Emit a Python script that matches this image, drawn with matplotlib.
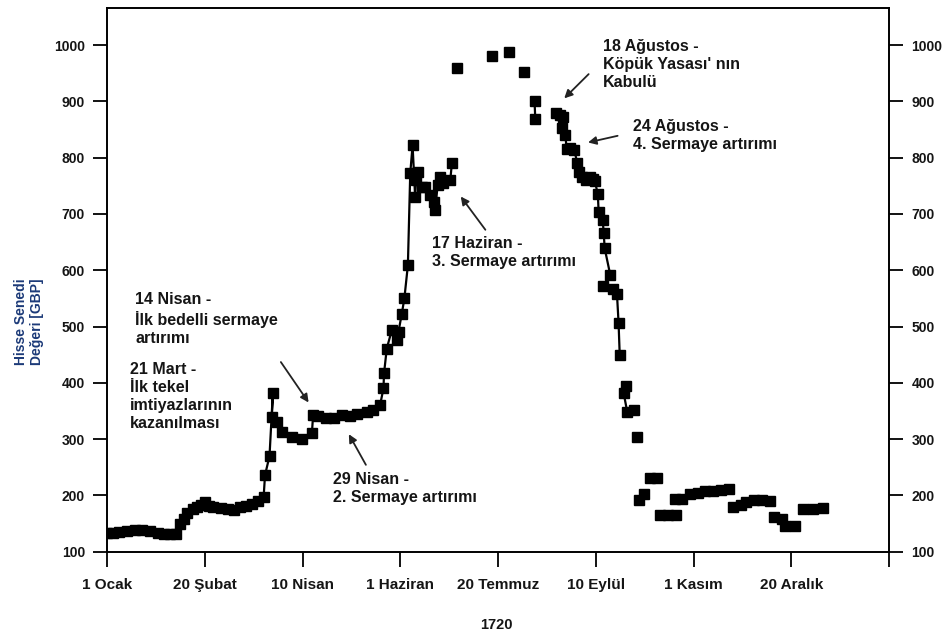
import numpy as np
import matplotlib.pyplot as plt
from matplotlib import font_manager

# day of year 1720 (0 = 1 Ocak) and share price in GBP
days_a = [0, 3, 6, 10, 14, 18, 22, 26, 29, 32, 35, 37, 39, 41, 44, 46, 48, 50, 52, 54,
          58, 62, 65, 68, 71, 74, 77, 80, 80.7, 83, 84.7, 84.2, 86.7, 89.3, 94.4, 99.5,
          104.7, 105.3, 108, 112, 116, 120, 124, 128, 132.8, 136, 139.6, 141.3, 141.6,
          143, 145.6, 148, 149, 150.7, 152, 153.8, 155, 156.2, 157.5, 158, 159.2, 161,
          162.7, 165.2, 167, 167.8, 169, 170.3, 172, 175.5, 176.3]
vals_a = [133, 134, 135, 137, 138, 139, 137, 134, 132, 131, 132, 150, 158, 168, 175, 180,
          183, 189, 182, 179, 177, 175, 174, 179, 182, 185, 190, 198, 236, 270, 382, 340,
          331, 313, 303, 301, 311, 343, 341, 338, 337, 343, 341, 345, 349, 352, 361, 390,
          417, 461, 494, 476, 491, 523, 550, 609, 772, 822, 731, 760, 775, 748, 748, 734,
          722, 707, 751, 766, 755, 760, 790]

days_b = [178.9, 196.8, 205.7, 213.4]
vals_b = [959, 980, 988, 953]

days_c = [218.6, 219]
vals_c = [901, 868]

days_d = [229.7, 231.5, 233.2, 232.7, 234.4, 235, 237, 239, 240.5, 241.2, 243, 245, 247,
          248.5, 249.5, 251, 251.4, 253.5, 254, 254.5, 257.4, 253.6, 259, 260.8, 261.6, 262.2]
vals_d = [879, 875, 873, 852, 840, 816, 818, 813, 790, 775, 766, 760, 765, 763, 758, 735,
          704, 689, 666, 639, 591, 572, 566, 557, 507, 449]

days_e = [265.6, 264.2, 266, 269.7]
vals_e = [394, 382, 349, 352]

days_f = [271, 272, 274.5, 277.5, 281.5, 283, 287, 291, 290.5, 294, 298, 302, 306, 310,
          314, 318, 320, 324, 327, 331, 335, 339, 341, 345, 347, 352, 356, 361, 366]
vals_f = [303, 191, 202, 231, 231, 166, 165, 166, 193, 194, 203, 204, 207, 208, 210, 211,
          179, 183, 189, 191, 191, 190, 161, 158, 146, 146, 175, 176, 177]

tick_days = [0, 50, 100, 150, 200, 250, 300, 350, 400]
tick_labels = ['1 Ocak', '20 Şubat', '10 Nisan', '1 Haziran', '20 Temmuz',
               '10 Eylül', '1 Kasım', '20 Aralık', '']

names = {f.name for f in font_manager.fontManager.ttflist}
narrow = 'Liberation Sans Narrow' if 'Liberation Sans Narrow' in names else 'Liberation Sans'
plt.rcParams['font.family'] = ['Liberation Sans', 'DejaVu Sans']
plt.rcParams['font.weight'] = 'bold'

txt = '#151515'

fig = plt.figure(figsize=(9.48, 6.4), dpi=100)
ax = fig.add_axes([0.1132, 0.138, 0.8246, 0.8495])

for d, v in [(days_a, vals_a), (days_c, vals_c), (days_d, vals_d), (days_e, vals_e)]:
    ax.plot(d, v, '-', color='black', linewidth=1.6, marker='s', markersize=6.5)
ax.plot(days_b, vals_b, 's', color='black', markersize=6.5)
ax.plot(days_f, vals_f, 's', color='black', markersize=6.5)

ax.set_xlim(0, 400)
ax.set_ylim(100, 1066)
ax.set_xticks(tick_days)
ax.set_xticklabels(tick_labels, family=[narrow, 'DejaVu Sans'], fontsize=11,
                   fontweight='bold', color=txt)
ax.set_yticks(np.arange(100, 1001, 100))
ax.tick_params(axis='y', left=True, right=True, labelleft=True, labelright=True,
               direction='out', length=10, width=1.3, pad=6, labelsize=10, labelcolor=txt)
ax.tick_params(axis='x', direction='out', length=11, width=1.3, pad=8)
for s in ax.spines.values():
    s.set_linewidth(1.4)

fig.text(496 / 948, 1 - 625 / 640, '1720', ha='center', va='center',
         fontsize=10.5, fontweight='bold', color=txt)
fig.text(29 / 948, 1 - 322 / 640, 'Hisse Senedi\nDeğeri [GBP]', rotation=90,
         ha='center', va='center', fontsize=10, fontweight='bold', color='#1c3a78',
         linespacing=1.15)

notes = [
    ("18 Ağustos -\nKöpük Yasası' nın\nKabulü", 253.8, 1011, (247.3, 952), (232.8, 902)),
    ("24 Ağustos -\n4. Sermaye artırımı", 269.2, 869, (262.5, 840), (244.6, 826)),
    ("17 Haziran -\n3. Sermaye artırımı", 166.3, 661, (194.3, 668), (180, 735)),
    ("14 Nisan -\nİlk bedelli sermaye\nartırımı", 14.2, 561, (88, 441), (103.8, 361)),
    ("21 Mart -\nİlk tekel\nimtiyazlarının\nkazanılması", 11.6, 437, None, None),
    ("29 Nisan -\n2. Sermaye artırımı", 115.5, 242, (133, 250), (122.9, 313)),
]
for label, tx, ty, tail, head in notes:
    ax.text(tx, ty, label, ha='left', va='top', fontsize=11.5, fontweight='bold',
            color=txt, linespacing=1.25)
    if tail is not None:
        ax.annotate('', xy=head, xytext=tail,
                    arrowprops=dict(arrowstyle='-|>', color='#222222', lw=1.3,
                                    mutation_scale=12))

fig.savefig('out.png', dpi=100)
